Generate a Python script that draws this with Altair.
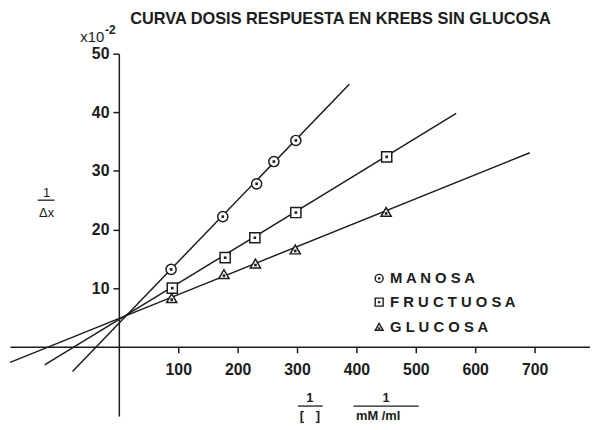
import altair as alt
import pandas as pd

# ---------------- data ----------------
title_text = "CURVA DOSIS RESPUESTA EN KREBS SIN GLUCOSA"
series = ["MANOSA", "FRUCTUOSA", "GLUCOSA"]
shapes = ["circle", "square", "triangle-up"]

manosa_x = [88, 175, 232, 261, 298]
manosa_y = [13.2, 22.2, 27.8, 31.6, 35.2]
fructuosa_x = [90, 179, 229, 298, 451]
fructuosa_y = [10.0, 15.2, 18.6, 22.9, 32.4]
glucosa_x = [89, 177, 230, 297, 450]
glucosa_y = [8.3, 12.4, 14.2, 16.6, 23.0]

# fitted straight lines (end points as drawn)
manosa_line_x = [-78, 388]
manosa_line_y = [-4.2, 44.8]
fructuosa_line_x = [-125, 568]
fructuosa_line_y = [-3.1, 39.8]
glucosa_line_x = [-183, 692]
glucosa_line_y = [-2.65, 33.1]

x_ticks = [100, 200, 300, 400, 500, 600, 700]
y_ticks = [10, 20, 30, 40, 50]

# ---------------- tables ----------------
pts = pd.concat([
    pd.DataFrame({"x": manosa_x, "y": manosa_y, "s": series[0]}),
    pd.DataFrame({"x": fructuosa_x, "y": fructuosa_y, "s": series[1]}),
    pd.DataFrame({"x": glucosa_x, "y": glucosa_y, "s": series[2]}),
], ignore_index=True)
lines = pd.concat([
    pd.DataFrame({"x": manosa_line_x, "y": manosa_line_y, "s": series[0]}),
    pd.DataFrame({"x": fructuosa_line_x, "y": fructuosa_line_y, "s": series[1]}),
    pd.DataFrame({"x": glucosa_line_x, "y": glucosa_line_y, "s": series[2]}),
], ignore_index=True)

W, H = 586, 366
X_DOM = [-183.3, 793.3]
Y_DOM = [-11.8, 50]
INK = "#1c1c1c"
FONT = "Liberation Sans"

xs = alt.Scale(domain=X_DOM, nice=False, zero=False)
ys = alt.Scale(domain=Y_DOM, nice=False, zero=False)

x0_px = (0 - X_DOM[0]) / (X_DOM[1] - X_DOM[0]) * W
y0_px = H - (0 - Y_DOM[0]) / (Y_DOM[1] - Y_DOM[0]) * H

x_axis = alt.Axis(values=x_ticks, orient="bottom", offset=-(H - y0_px), tickSize=6,
                  tickWidth=1.5, tickColor=INK, domainColor=INK, domainWidth=1.5,
                  labelFont=FONT, labelFontSize=16, labelFontWeight="bold",
                  labelColor=INK, labelPadding=9, title=None, grid=False, format="d")
y_axis = alt.Axis(values=y_ticks, orient="left", offset=-x0_px, tickSize=6,
                  tickWidth=1.5, tickColor=INK, domainColor=INK, domainWidth=1.5,
                  labelFont=FONT, labelFontSize=16, labelFontWeight="bold",
                  labelColor=INK, labelPadding=4, title=None, grid=False, format="d")

X = alt.X("x:Q", scale=xs, axis=x_axis)
Y = alt.Y("y:Q", scale=ys, axis=y_axis)

shape_scale = alt.Scale(domain=series, range=shapes)

line_layer = alt.Chart(lines).mark_line(color=INK, strokeWidth=1.5).encode(
    x=X, y=Y, detail="s:N",
)

marker_layer = alt.Chart(pts).mark_point(filled=True, fill="white", stroke=INK,
                                         strokeWidth=1.5, size=105, opacity=1).encode(
    x=X, y=Y,
    shape=alt.Shape("s:N", scale=shape_scale, legend=None),
)

dot_layer = alt.Chart(pts).transform_filter(alt.datum.s != series[2]).mark_point(
    filled=True, color=INK, shape="square", size=7, opacity=1).encode(x=X, y=Y)
dot_layer_tri = alt.Chart(pts).transform_filter(alt.datum.s == series[2]).mark_point(
    filled=True, color=INK, shape="square", size=7, opacity=1, yOffset=1.5).encode(x=X, y=Y)

one = pd.DataFrame({"k": [0]})


def label(txt, px, py, size=13, weight="normal", align="center", baseline="middle"):
    return alt.Chart(one).mark_text(text=txt, font=FONT, fontSize=size, fontWeight=weight,
                                    align=align, baseline=baseline, color=INK).encode(
        x=alt.value(px), y=alt.value(py))


def hline(px1, px2, py):
    return alt.Chart(one).mark_rule(color=INK, strokeWidth=1.3).encode(
        x=alt.value(px1), x2=alt.value(px2), y=alt.value(py))


annots = [
    label(title_text, 334, -35, size=16.5, weight="bold"),
    label("x10", 71, -12, size=15, align="left", baseline="alphabetic"),
    label("-2", 96, -20, size=12, weight="bold", align="left", baseline="alphabetic"),
    label("1", 37, 141, size=13),
    hline(28, 45, 148),
    label("Δx", 37, 161, size=13),
    label("1", 303, 348, size=13, weight="bold"),
    hline(291, 316, 356),
    label("[", 295, 366, size=13, weight="bold"),
    label("]", 311, 366, size=13, weight="bold"),
    label("1", 380, 348, size=13, weight="bold"),
    hline(347, 413, 356),
    label("mM /ml", 372, 366, size=13, weight="bold"),
]

legend_rows = [227, 251, 276]
legend_layers = []
for name, shp, ry in zip(series, shapes, legend_rows):
    legend_layers.append(
        alt.Chart(one).mark_point(shape=shp, filled=True, fill="white", stroke=INK,
                                  strokeWidth=1.4, size=64, opacity=1).encode(
            x=alt.value(373), y=alt.value(ry)))
    legend_layers.append(
        alt.Chart(one).mark_point(shape="square", filled=True, color=INK, size=5,
                                  opacity=1).encode(
            x=alt.value(373), y=alt.value(ry + (1.5 if shp == "triangle-up" else 0))))
    legend_layers.append(label(" ".join(name), 384, ry, size=15, weight="bold", align="left"))

chart = alt.layer(line_layer, marker_layer, dot_layer, dot_layer_tri, *annots, *legend_layers).properties(
    width=W, height=H,
    background="white",
    autosize=alt.AutoSizeParams(type="none"),
    padding={"left": 2, "top": 44, "right": 0, "bottom": 10},
).configure_view(strokeWidth=0, stroke=None)

chart.save("out.html", embed_options={"renderer": "svg", "actions": False})
